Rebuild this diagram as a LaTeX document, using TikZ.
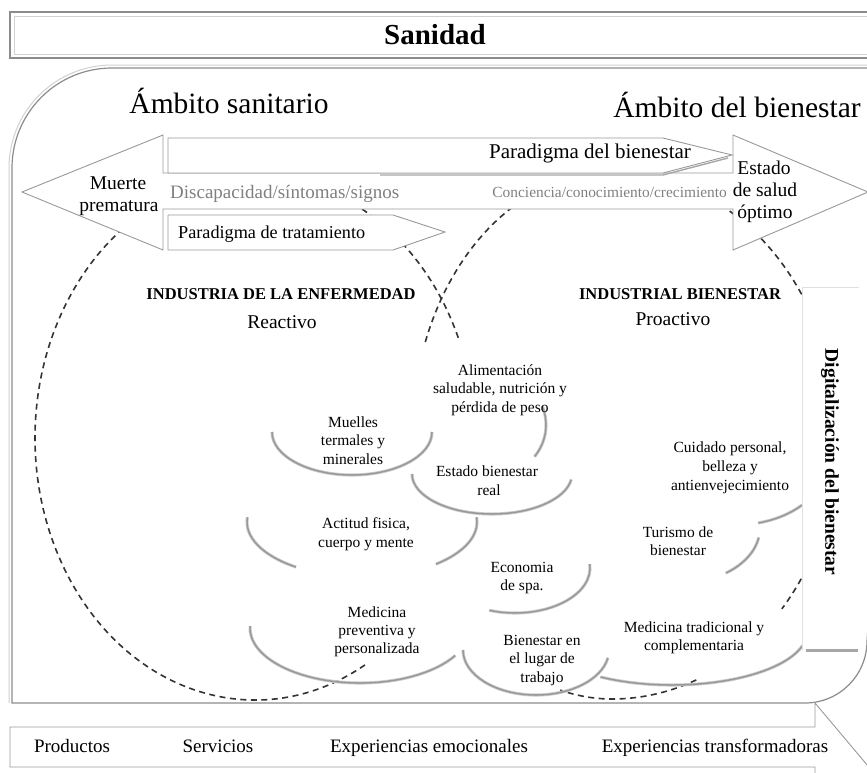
\documentclass[tikz,border=0pt]{standalone}
\usepackage{fontspec}
\setmainfont{Liberation Serif}
\newcommand{\bubarc}[6]{\draw[barcst] (#1,#2) ++(#5:#3 and #4) arc[start angle=#5,end angle=#6,x radius=#3,y radius=#4];}
\begin{document}
\begin{tikzpicture}[x=1pt,y=-1pt,
  frame/.style={draw=black!45, line width=1.2pt},
  frameshadow/.style={draw=black!18, line width=1pt},
  abox/.style={draw=black!40, fill=white, line width=0.9pt, line join=miter},
  dline/.style={draw=black!80, line width=1.6pt, dash pattern=on 6pt off 4.5pt},
  barcst/.style={draw=black!20, double=black!40, double distance=1.5pt, line width=0.8pt},
  lbl/.style={anchor=base, inner sep=0pt, font=\fontsize{15.5}{18}\selectfont},
  lblg/.style={lbl, text=black!50},
  bigt/.style={font=\fontsize{29.5}{30}\selectfont},
  midt/.style={font=\fontsize{19.5}{20}\selectfont},
  capt/.style={font=\bfseries\fontsize{16.5}{17}\selectfont}
]
\path[use as bounding box] (0,0) rectangle (867,772);
\clip (0,0) rectangle (867,772);
\fill[white] (0,0) rectangle (867,772);

% Sanidad banner
\draw[frameshadow] (14,16) rectangle (880,54);
\draw[frame] (10,12) rectangle (880,58);
\node[lbl, font=\bfseries\fontsize{29}{29}\selectfont] (sanidad) at (435,44) {Sanidad};

% big rounded region
\draw[frameshadow] (9,703) -- (9,168) arc[start angle=180,end angle=270,radius=103] -- (880,65);
\draw[frame] (870,600) -- (867,641) arc[start angle=0,end angle=90,radius=62] -- (12,703) -- (12,168) arc[start angle=180,end angle=270,radius=100] -- (880,68);

% dashed domains
\draw[dline] (255,438) ++(60:220 and 262) arc[start angle=60,end angle=265,x radius=220,y radius=262];
\draw[dline] (255,438) ++(275:220 and 262) arc[start angle=275,end angle=338,x radius=220,y radius=262];
\draw[dline] (612,437) ++(201:200 and 265) arc[start angle=201,end angle=270,x radius=200,y radius=265];
\draw[dline] (612,437) ++(270:225 and 265) arc[start angle=270,end angle=330,x radius=225,y radius=265];
\draw[dline] (612,437) ++(28:225 and 262) arc[start angle=28,end angle=41,x radius=225,y radius=262];
\draw[dline] (612,437) ++(68:225 and 262) arc[start angle=68,end angle=90,x radius=225,y radius=262] arc[start angle=90,end angle=105,x radius=200,y radius=262];

% double arrow and paradigm arrows
\draw[abox] (22,192) -- (163,135) -- (163,173) -- (733,173) -- (733,135) -- (868,192) -- (733,250) -- (733,209) -- (163,209) -- (163,250) -- cycle;
\draw[abox] (168,138) -- (663,138) -- (732,155) -- (663,173) -- (168,173) -- cycle;
\draw[black!35, line width=1.4pt] (380,175) -- (663,175) -- (728,158);
\draw[abox] (168,215) -- (393,215) -- (445,232) -- (393,250) -- (168,250) -- cycle;

% bubbles
\bubarc{483}{425}{63}{55}{-20}{35}
\bubarc{352}{432}{80}{43}{180}{0}
\bubarc{492}{474}{80}{40}{180}{8}
\bubarc{362}{522}{115}{55}{185}{125}
\bubarc{362}{522}{115}{55}{50}{-5}
\bubarc{360}{628}{110}{55}{182}{30}
\bubarc{515}{568}{75}{45}{110}{-5}
\bubarc{536}{650}{73}{45}{180}{10}
\bubarc{735}{465}{90}{60}{75}{42}
\bubarc{680}{528}{80}{55}{10}{55}
\bubarc{672}{632}{135}{53}{122}{15}

% digitalization box
\fill[white] (802,287) rectangle (859,650);
\draw[black!12, line width=0.8pt] (802,650) -- (802,287) -- (859,287);
\draw[black!35, line width=3pt] (806,650) -- (858,650);
\node[rotate=-90, inner sep=0pt, font=\bfseries\fontsize{19.5}{20}\selectfont] (digi) at (830,462) {Digitalización del bienestar};

% bottom arrow
\draw[abox] (10,727) -- (815,727) -- (815,703) -- (905,810) -- (815,917) -- (815,767) -- (10,767) -- cycle;

% texts
\node[lbl, bigt] (amb1) at (229,113) {Ámbito sanitario};
\node[lbl, bigt] (amb2) at (737,117) {Ámbito del bienestar};
\node[lbl, font=\fontsize{21}{21}\selectfont] (parb) at (590,158) {Paradigma del bienestar};
\node[lbl, anchor=base west, font=\fontsize{18.2}{18}\selectfont] (part) at (178,238) {Paradigma de tratamiento};
\node[lbl, midt] (mu1) at (118,189) {Muerte};
\node[lbl, midt] (mu2) at (119,211) {prematura};
\node[lblg, anchor=base west, font=\fontsize{19}{19}\selectfont] (disc) at (170,198) {Discapacidad/síntomas/signos};
\node[lblg, anchor=base east, font=\fontsize{15.4}{15}\selectfont] (conc) at (727,197) {Conciencia/conocimiento/crecimiento};
\node[lbl, midt] (es1) at (764,174) {Estado};
\node[lbl, midt] (es2) at (765,196) {de salud};
\node[lbl, midt] (es3) at (765,218) {óptimo};

\node[lbl, capt] (ind1) at (281,299) {INDUSTRIA DE LA ENFERMEDAD};
\node[lbl, midt] (rea) at (282,328) {Reactivo};
\node[lbl, capt] (ind2) at (680,299) {INDUSTRIAL BIENESTAR};
\node[lbl, midt] (pro) at (673,325) {Proactivo};

\node[lbl] (ali1) at (500,375) {Alimentación};
\node[lbl] (ali2) at (500,393) {saludable, nutrición y};
\node[lbl] (ali3) at (500,412) {pérdida de peso};
\node[lbl] (mue1) at (353,427) {Muelles};
\node[lbl] (mue2) at (353,445) {termales y};
\node[lbl] (mue3) at (353,464) {minerales};
\node[lbl] (est1) at (487,476) {Estado bienestar};
\node[lbl] (est2) at (489,495) {real};
\node[lbl] (act1) at (366,528) {Actitud fisica,};
\node[lbl] (act2) at (366,547) {cuerpo y mente};
\node[lbl] (mp1) at (377,617) {Medicina};
\node[lbl] (mp2) at (377,635) {preventiva y};
\node[lbl] (mp3) at (377,653) {personalizada};
\node[lbl] (eco1) at (522,572) {Economia};
\node[lbl] (eco2) at (522,590) {de spa.};
\node[lbl] (bie1) at (542,645) {Bienestar en};
\node[lbl] (bie2) at (542,663) {el lugar de};
\node[lbl] (bie3) at (542,682) {trabajo};
\node[lbl] (mt1) at (694,632) {Medicina tradicional y};
\node[lbl] (mt2) at (694,650) {complementaria};
\node[lbl] (tur1) at (678,537) {Turismo de};
\node[lbl] (tur2) at (678,555) {bienestar};
\node[lbl] (cui1) at (730,452) {Cuidado personal,};
\node[lbl] (cui2) at (730,471) {belleza y};
\node[lbl] (cui3) at (730,490) {antienvejecimiento};

\node[lbl, font=\fontsize{19}{19}\selectfont] (b1) at (72,752) {Productos};
\node[lbl, font=\fontsize{19}{19}\selectfont] (b2) at (218,752) {Servicios};
\node[lbl, font=\fontsize{19}{19}\selectfont] (b3) at (429,752) {Experiencias emocionales};
\node[lbl, font=\fontsize{19}{19}\selectfont] (b4) at (715,752) {Experiencias transformadoras};
\end{tikzpicture}
\end{document}
